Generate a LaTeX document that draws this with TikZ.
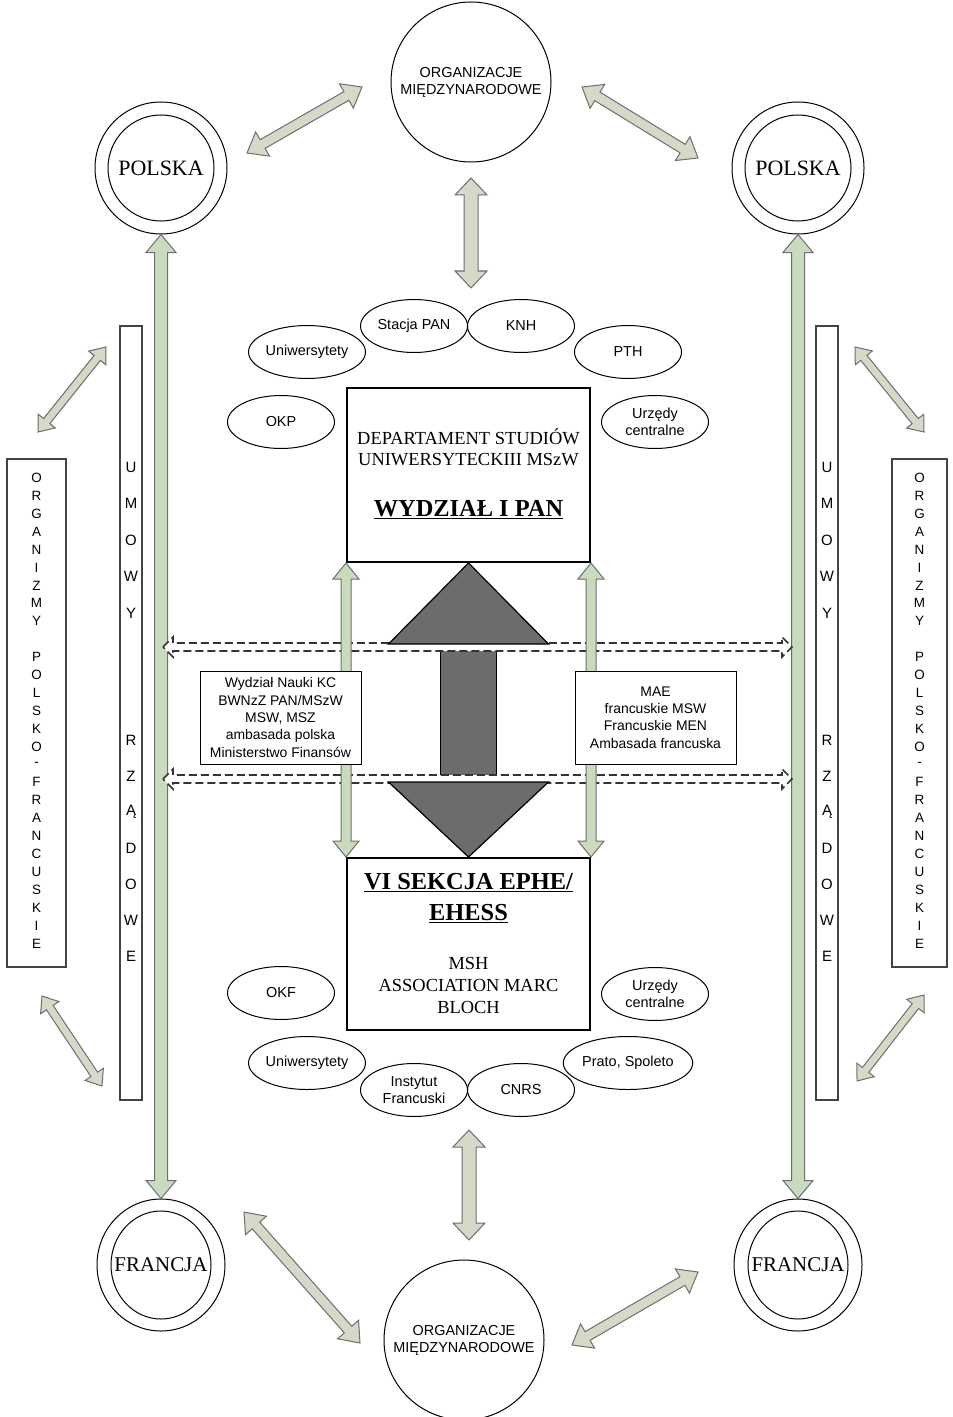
\documentclass[tikz,border=0pt]{standalone}
\usepackage{fontspec}
\setmainfont{Liberation Serif}
\setsansfont{Liberation Sans}
\usepackage{tikz}
\usetikzlibrary{calc, shapes.geometric}

\definecolor{arrgray}{HTML}{D6D8C8}
\definecolor{arrgreen}{HTML}{C8DBBC}
\definecolor{arrline}{HTML}{6E6E6E}
\definecolor{bigarr}{HTML}{6C6C6C}
\definecolor{boxline}{HTML}{4A4242}

\tikzset{
        lightarr/.style={fill=arrgray, draw=arrline, line width=1bp},
        greenarr/.style={fill=arrgreen, draw=arrline, line width=1bp},
        dasharr/.style={fill=white, draw=black!80, dash pattern=on 8bp off 4bp, line width=1.6bp},
        bigarrow/.style={fill=bigarr, draw=black, line width=1.2bp},
        oval/.style={ellipse, draw, line width=1bp, minimum width=107bp, minimum height=53bp,
                inner sep=0pt, align=center, font=\sffamily\fontsize{14.5}{17}\selectfont},
        land/.style={circle, draw, line width=1bp, inner sep=0pt},
        landname/.style={inner sep=0pt, font=\fontsize{22}{26}\selectfont},
        orgcirc/.style={circle, draw, line width=1bp, minimum size=160bp, inner sep=0pt,
                align=center, font=\sffamily\fontsize{14.5}{17}\selectfont},
        mainbox/.style={draw, line width=2bp, minimum width=243bp, minimum height=174bp},
        labelbox/.style={draw, fill=white, line width=1bp, minimum width=161bp, minimum height=93bp,
                align=center, font=\sffamily\fontsize{14}{17.5}\selectfont},
        vbox/.style={draw=boxline, line width=1.5bp},
        vletter/.style={inner sep=0pt, font=\sffamily\fontsize{13.5}{14}\selectfont},
        uletter/.style={inner sep=0pt, font=\sffamily\fontsize{15}{16}\selectfont},
}

% hollow double arrow: [style]{from}{to}{shaft half}{head half}{head length}
\newcommand{\fatarr}[6][]{%
        \path (#2) coordinate (fa-s) (#3) coordinate (fa-e);
        \path ($(fa-s)!#6bp!(fa-e)$) coordinate (fa-b1) ($(fa-e)!#6bp!(fa-s)$) coordinate (fa-b2);
        \draw[#1] (fa-s) -- ($(fa-b1)!#5bp!90:(fa-e)$) -- ($(fa-b1)!#4bp!90:(fa-e)$)
                -- ($(fa-b2)!#4bp!-90:(fa-s)$) -- ($(fa-b2)!#5bp!-90:(fa-s)$) -- (fa-e)
                -- ($(fa-b2)!#5bp!90:(fa-s)$) -- ($(fa-b2)!#4bp!90:(fa-s)$)
                -- ($(fa-b1)!#4bp!-90:(fa-e)$) -- ($(fa-b1)!#5bp!-90:(fa-e)$) -- cycle;}

\begin{document}
\begin{tikzpicture}[x=1bp, y=-1bp]
        \useasboundingbox (0,0) rectangle (952,1417);

        % outer ring
        \node[orgcirc] (orgT) at (471,82) {ORGANIZACJE\\MIĘDZYNARODOWE};
        \node[orgcirc] (orgB) at (464,1340) {ORGANIZACJE\\MIĘDZYNARODOWE};
        \foreach \s/\x in {L/161, R/798} {
                \node[land, minimum size=132bp] (pol\s) at (\x,168) {};
                \node[land, minimum size=106bp] (pol\s-in) at (\x,168) {};
                \node[landname] (pol\s-txt) at (\x,168) {POLSKA};
                \node[land, ellipse, minimum width=128bp, minimum height=132bp] (fr\s) at (\x,1265) {};
                \node[land, ellipse, minimum width=100bp, minimum height=108bp] (fr\s-in) at (\x,1265) {};
                \node[landname, font=\fontsize{21}{25}\selectfont] (fr\s-txt) at (\x,1265) {FRANCJA};
        }

        \coordinate (tl1) at (247,153);  \coordinate (tl2) at (362,87);
        \coordinate (tr1) at (582,87);   \coordinate (tr2) at (698,158);
        \coordinate (bl1) at (244,1212); \coordinate (bl2) at (360,1343);
        \coordinate (br1) at (572,1345); \coordinate (br2) at (698,1272);
        \coordinate (vt1) at (471,178);  \coordinate (vt2) at (471,288);
        \coordinate (vb1) at (469,1130); \coordinate (vb2) at (469,1240);
        \fatarr[lightarr]{tl1}{tl2}{5}{14}{18}
        \fatarr[lightarr]{tr1}{tr2}{5}{14}{18}
        \fatarr[lightarr]{bl1}{bl2}{5}{14}{18}
        \fatarr[lightarr]{br1}{br2}{5}{14}{18}
        \fatarr[lightarr]{vt1}{vt2}{7}{16}{17}
        \fatarr[lightarr]{vb1}{vb2}{7}{16}{17}
        \fatarr[greenarr]{polL.south}{frL.north}{6.5}{15}{18}
        \fatarr[greenarr]{polR.south}{frR.north}{6.5}{15}{18}

        % side columns
        \draw[vbox] (7,459) rectangle (66,967);
        \draw[vbox] (120,326) rectangle (142,1100);
        \draw[vbox] (816,326) rectangle (838,1100);
        \draw[vbox] (892,459) rectangle (947,967);
        \foreach \c [count=\i] in {O,R,G,A,N,I,Z,M,Y,{},P,O,L,S,K,O,-,F,R,A,N,C,U,S,K,I,E} {
                \node[vletter] (ozl\i) at (36.5,{478+(\i-1)*17.9}) {\c};
                \node[vletter] (ozr\i) at (919.5,{478+(\i-1)*17.9}) {\c};
        }
        \foreach \c [count=\i] in {U,M,O,W,Y} {
                \node[uletter] (uml\i) at (131,{467+(\i-1)*36.5}) {\c};
                \node[uletter] (umr\i) at (827,{467+(\i-1)*36.5}) {\c};
        }
        \foreach \c [count=\i] in {R,Z,Ą,D,O,W,E} {
                \node[uletter] (rzl\i) at (131,{740+(\i-1)*36.1}) {\c};
                \node[uletter] (rzr\i) at (827,{740+(\i-1)*36.1}) {\c};
        }
        \coordinate (sl1) at (38,432);  \coordinate (sl2) at (106,347);
        \coordinate (sl3) at (42,996);  \coordinate (sl4) at (102,1086);
        \coordinate (sr1) at (855,347); \coordinate (sr2) at (924,432);
        \coordinate (sr3) at (857,1081); \coordinate (sr4) at (924,995);
        \fatarr[lightarr]{sl1}{sl2}{4}{11}{14}
        \fatarr[lightarr]{sl3}{sl4}{4}{11}{14}
        \fatarr[lightarr]{sr1}{sr2}{4}{11}{14}
        \fatarr[lightarr]{sr3}{sr4}{4}{11}{14}

        % institutions
        \node[oval] (stacja) at (414,326) {Stacja PAN};
        \node[oval] (knh) at (521,326) {KNH};
        \node[oval] (uniT) at (307,352) {Uniwersytety};
        \node[oval] (pth) at (628,352) {PTH};
        \node[oval] (okp) at (281,422) {OKP};
        \node[oval] (urzT) at (655,422) {Urzędy\\centralne};
        \node[oval] (okf) at (281,993) {OKF};
        \node[oval] (urzB) at (655,994) {Urzędy\\centralne};
        \node[oval] (uniB) at (307,1063) {Uniwersytety};
        \node[oval] (prato) at (628,1063) {Prato, Spoleto};
        \node[oval] (inst) at (414,1090) {Instytut\\Francuski};
        \node[oval] (cnrs) at (521,1090) {CNRS};

        \node[mainbox] (wyd) at (468.5,475) {};
        \node[align=center, font=\fontsize{18.5}{21}\selectfont] (wydsub) at (468.5,447.5)
                {DEPARTAMENT STUDIÓW\\UNIWERSYTECKIII MSzW};
        \node[font=\bfseries\fontsize{24.5}{28}\selectfont] (wydname) at (468.5,510) {\underline{WYDZIAŁ I PAN}};
        \node[mainbox, minimum height=172bp] (sek) at (468.5,944) {};
        \node[align=center, font=\bfseries\fontsize{24.5}{32}\selectfont] (sekname) at (468.5,898)
                {\underline{VI SEKCJA EPHE/}\\\underline{EHESS}};
        \node[align=center, font=\fontsize{18.5}{22.5}\selectfont] (seksub) at (468.5,985.5)
                {MSH\\ASSOCIATION MARC\\BLOCH};

        % central exchange
        \draw[bigarrow] ($(wyd.south)+(-28,81)$) rectangle ($(sek.north)+(28,-75)$);
        \coordinate (dl1) at (163,647); \coordinate (dr1) at (792,647);
        \coordinate (dl2) at (163,779); \coordinate (dr2) at (792,779);
        \fatarr[dasharr]{dl1}{dr1}{4}{10}{10}
        \fatarr[dasharr]{dl2}{dr2}{4}{10}{10}
        \draw[bigarrow] (wyd.south) -- ++(80,81) -- ++(-160,0) -- cycle;
        \draw[bigarrow] (sek.north) -- ++(80,-75) -- ++(-160,0) -- cycle;
        \fatarr[greenarr]{wyd.south west}{sek.north west}{5}{13}{16}
        \fatarr[greenarr]{wyd.south east}{sek.north east}{5}{13}{16}

        \node[labelbox] (lbL) at (280.5,717.5)
                {Wydział Nauki KC\\BWNzZ PAN/MSzW\\MSW, MSZ\\ambasada polska\\Ministerstwo Finansów};
        \node[labelbox] (lbR) at (655.5,717.5)
                {MAE\\francuskie MSW\\Francuskie MEN\\Ambasada francuska};
\end{tikzpicture}
\end{document}
